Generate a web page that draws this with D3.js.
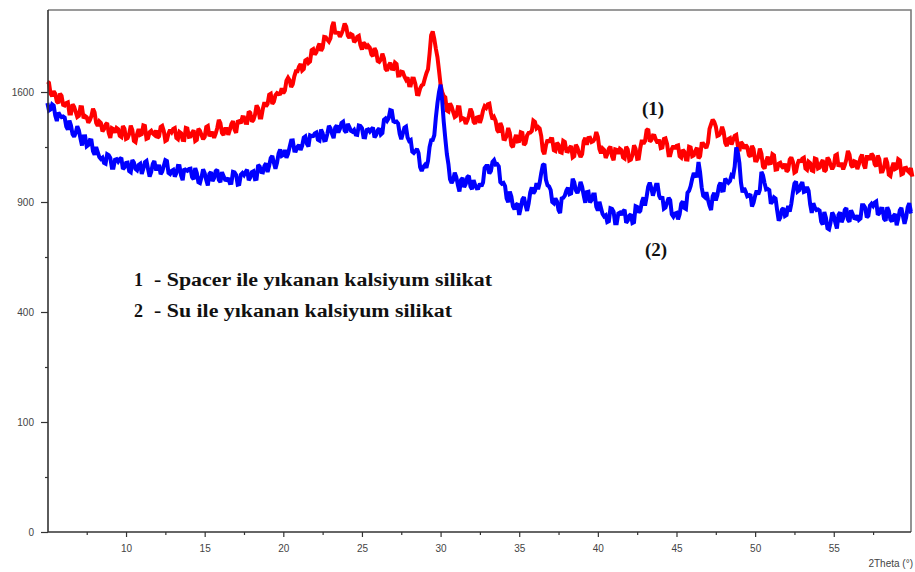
<!DOCTYPE html>
<html>
<head>
<meta charset="utf-8">
<script src="https://cdn.jsdelivr.net/npm/d3@7/dist/d3.min.js"></script>
<style>
  body { margin: 0; background: #fff; }
  svg { display: block; }
</style>
</head>
<body>
<svg id="chart" width="915" height="572"></svg>
<script>
// XRD scan: 2Theta from 5° in steps of 0.1°
const scanStart = 5;
const scanStep = 0.1;

// (1) Spacer ile yıkanan kalsiyum silikat — counts
const spacerWashed = [
  1677,1668,1589,1570,1606,1587,1532,1520,1588,1573,1508,1503,1521,1526,1447,1447,1512,1494,1459,1424,
  1432,1491,1490,1415,1430,1422,1384,1402,1430,1481,1455,1383,1363,1393,1382,1326,1342,1372,1382,1315,
  1284,1348,1342,1318,1349,1341,1297,1290,1362,1345,1277,1282,1310,1365,1336,1264,1257,1308,1342,1304,
  1309,1366,1362,1278,1283,1322,1330,1312,1303,1332,1284,1294,1356,1363,1329,1264,1270,1313,1336,1321,
  1342,1348,1283,1275,1323,1315,1271,1270,1349,1345,1290,1292,1317,1333,1264,1271,1343,1331,1303,1275,
  1290,1356,1362,1294,1316,1315,1284,1312,1349,1403,1381,1316,1303,1343,1343,1304,1336,1376,1395,1338,
  1317,1391,1395,1381,1422,1421,1384,1383,1462,1452,1391,1403,1438,1504,1485,1420,1420,1481,1526,1498,
  1514,1581,1588,1515,1531,1577,1592,1585,1587,1627,1590,1611,1684,1705,1686,1636,1657,1716,1754,1754,
  1790,1811,1761,1772,1838,1846,1818,1829,1919,1927,1884,1902,1943,1971,1914,1937,2026,2023,2004,1988,
  2015,2113,2150,2060,2059,2058,2027,2052,2086,2136,2110,2038,2017,2049,2041,1983,1997,2026,2034,1961,
  1924,1980,1965,1932,1954,1938,1886,1871,1935,1910,1834,1827,1844,1891,1853,1773,1759,1798,1820,1774,
  1772,1821,1810,1722,1723,1751,1748,1715,1691,1708,1649,1648,1699,1698,1657,1584,1583,1626,1649,1656,
  1699,1740,1769,1890,2040,2070,2010,1930,1864,1760,1653,1600,1571,1562,1468,1461,1519,1497,1459,1424,
  1432,1491,1490,1408,1416,1412,1377,1399,1430,1481,1455,1390,1377,1420,1423,1384,1417,1468,1498,1487,
  1512,1516,1450,1408,1422,1397,1336,1319,1382,1355,1277,1275,1297,1349,1316,1237,1224,1272,1303,1261,
  1263,1320,1316,1238,1250,1299,1317,1318,1329,1398,1390,1347,1356,1346,1296,1202,1180,1236,1271,1256,
  1277,1276,1205,1200,1251,1240,1193,1189,1264,1257,1199,1197,1219,1232,1160,1167,1239,1221,1187,1162,
  1180,1262,1284,1239,1283,1285,1257,1262,1277,1322,1290,1212,1186,1216,1206,1157,1180,1214,1227,1167,
  1142,1210,1207,1182,1213,1205,1161,1154,1226,1209,1141,1146,1174,1236,1214,1151,1153,1220,1270,1245,
  1263,1333,1342,1261,1270,1299,1297,1269,1250,1272,1218,1222,1277,1281,1245,1173,1173,1213,1232,1214,
  1232,1235,1167,1159,1207,1196,1148,1147,1226,1222,1167,1172,1201,1220,1154,1167,1245,1246,1231,1219,
  1251,1343,1375,1405,1390,1359,1297,1302,1316,1357,1322,1251,1231,1277,1283,1241,1270,1297,1303,1233,
  1199,1257,1245,1214,1238,1224,1174,1164,1233,1212,1141,1140,1162,1215,1183,1104,1091,1136,1164,1123,
  1125,1179,1172,1085,1087,1122,1127,1105,1093,1122,1074,1084,1146,1160,1133,1068,1074,1120,1146,1131,
  1152,1158,1093,1085,1133,1125,1081,1077,1152,1148,1093,1098,1127,1143,1074,1084,1159,1144,1113,1088,
  1106,1172,1178,1104,1119,1118,1087,1112,1146,1200,1178,1113,1099,1136,1132,1089,1118,1158,1177,1117,
  1092,1163,1163,1145,1183,1169,1118,1105,1171,1148,1074,1075,1100,1156,1127,1055,1048,1096,1127,1089,
  1094,1148,1141,1057,1062,1094,1096,1078,1069,1095,1044
];

// (2) Su ile yıkanan kalsiyum silikat — counts
const waterWashed = [
  1521,1468,1475,1511,1502,1434,1396,1454,1435,1423,1427,1419,1358,1338,1398,1365,1307,1292,1317,1360,
  1334,1280,1235,1293,1294,1230,1238,1269,1267,1198,1176,1225,1193,1162,1150,1158,1126,1121,1180,1174,
  1156,1096,1096,1145,1149,1134,1149,1157,1089,1099,1125,1127,1077,1070,1143,1128,1089,1081,1113,1120,
  1059,1090,1131,1138,1089,1044,1071,1120,1137,1089,1089,1114,1059,1073,1107,1142,1137,1066,1059,1077,
  1083,1044,1065,1108,1107,1050,1023,1091,1083,1078,1089,1091,1041,1028,1095,1065,1011,1006,1041,1087,
  1065,1024,993,1060,1071,1018,1036,1076,1084,1024,1012,1070,1048,1026,1024,1035,1006,1007,1072,1069,
  1054,997,1000,1055,1065,1053,1071,1085,1023,1039,1071,1076,1029,1031,1113,1104,1071,1069,1107,1123,
  1071,1108,1155,1169,1126,1090,1126,1184,1210,1169,1175,1206,1157,1181,1224,1266,1267,1202,1201,1226,
  1238,1206,1233,1285,1293,1246,1228,1300,1295,1296,1313,1319,1272,1266,1339,1315,1267,1269,1310,1363,
  1347,1310,1282,1352,1366,1319,1343,1383,1391,1331,1319,1377,1355,1330,1324,1335,1306,1304,1366,1363,
  1348,1288,1287,1336,1340,1325,1340,1351,1286,1302,1334,1346,1306,1316,1405,1414,1398,1415,1471,1467,
  1395,1389,1392,1379,1310,1275,1312,1351,1358,1287,1264,1270,1195,1187,1199,1213,1186,1100,1077,1101,
  1113,1096,1138,1225,1268,1270,1301,1420,1519,1600,1653,1540,1392,1280,1180,1117,1029,1007,1024,1067,
  1042,995,958,1025,1036,983,1001,1041,1049,986,971,1023,995,976,977,1003,988,1010,1095,1107,
  1107,1062,1077,1132,1143,1116,1119,1104,1012,1002,1007,989,919,899,958,930,877,861,884,892,
  831,868,914,927,883,852,892,953,981,947,961,1006,971,1008,1065,1112,1119,1025,994,987,
  967,900,893,920,903,857,841,920,923,935,963,979,943,947,1031,1010,965,949,972,1013,
  985,936,896,955,957,898,910,942,942,874,854,901,868,836,823,829,794,798,866,863,
  848,788,788,838,843,831,849,858,790,801,827,834,789,793,877,873,844,853,901,925,
  880,928,985,1009,977,935,965,997,997,933,916,930,864,870,896,923,910,834,822,838,
  841,808,834,891,903,868,863,951,962,989,1031,1065,1047,1049,1131,1069,982,935,927,954,
  913,880,857,932,951,909,938,990,1009,963,965,1032,1018,1008,1018,1053,1047,1103,1223,1190,
  1125,1009,953,977,957,931,935,943,875,897,934,964,942,967,1072,1051,1006,970,973,966,
  891,903,925,919,856,801,817,858,867,825,830,879,848,890,951,1003,1015,958,965,995,
  1012,956,960,984,963,887,841,893,869,857,860,854,796,781,846,816,762,757,792,844,
  828,790,761,831,844,793,814,857,867,807,795,856,836,814,812,829,805,812,882,882,
  869,818,826,881,891,879,897,903,832,840,864,863,810,801,872,852,807,797,826,836,
  778,812,855,868,824,785,817,872,894,849,851
];

const xTicks = [10, 15, 20, 25, 30, 35, 40, 45, 50, 55];
const xMinorTicks = [7.5, 12.5, 17.5, 22.5, 27.5, 32.5, 37.5, 42.5, 47.5, 52.5, 57.5];
const yTicks = [0, 100, 400, 900, 1600];
const yMinorTicks = [25, 225, 625, 1225];
const xTitle = "2Theta (°)";
const legendItems = [
  { num: "1", text: "- Spacer ile yıkanan kalsiyum silikat", width: 338 },
  { num: "2", text: "- Su ile yıkanan kalsiyum silikat", width: 298 }
];
const curveLabels = ["(1)", "(2)"];

const plot = { left: 48, right: 911, top: 10, bottom: 532 };

const svg = d3.select("#chart");

const x = d3.scaleLinear().domain([5, 60]).range([47.4, 912.4]);
const y = d3.scaleSqrt().domain([0, 2252]).range([plot.bottom, plot.top]);

const axisFont = "'Liberation Sans', Arial, sans-serif";
const serifFont = "'Liberation Serif', 'Times New Roman', serif";

// frame (top and right edges)
svg.append("path")
  .attr("d", `M${plot.left},${plot.top}H${plot.right}V${plot.bottom}`)
  .attr("fill", "none")
  .attr("stroke", "#7a7a7a")
  .attr("stroke-width", 1.6);

// traces: a broad stroke renders the counting-noise band of each scan
const line = d3.line()
  .x((d, i) => x(scanStart + i * scanStep))
  .y(d => y(d));

svg.append("path")
  .datum(spacerWashed)
  .attr("d", line)
  .attr("fill", "none")
  .attr("stroke", "#ff0000")
  .attr("stroke-width", 4)
  .attr("stroke-linejoin", "miter")
  .attr("stroke-miterlimit", 2);

svg.append("path")
  .datum(waterWashed)
  .attr("d", line)
  .attr("fill", "none")
  .attr("stroke", "#0000ff")
  .attr("stroke-width", 4)
  .attr("stroke-linejoin", "miter")
  .attr("stroke-miterlimit", 2);

// x axis
const gx = svg.append("g").attr("transform", `translate(0,${plot.bottom})`);
gx.call(d3.axisBottom(x).tickValues(xTicks).tickSize(5).tickPadding(8).tickSizeOuter(0));
const gxMinor = svg.append("g").attr("transform", `translate(0,${plot.bottom})`);
gxMinor.call(d3.axisBottom(x).tickValues(xMinorTicks).tickSize(3).tickFormat("").tickSizeOuter(0));
gxMinor.select(".domain").remove();

// y axis (square-root intensity)
const gy = svg.append("g").attr("transform", `translate(${plot.left},0)`);
gy.call(d3.axisLeft(y).tickValues(yTicks).tickFormat(d3.format("d")).tickSize(7).tickPadding(7).tickSizeOuter(0));
const gyMinor = svg.append("g").attr("transform", `translate(${plot.left},0)`);
gyMinor.call(d3.axisLeft(y).tickValues(yMinorTicks).tickSize(3).tickFormat("").tickSizeOuter(0));
gyMinor.select(".domain").remove();

gx.select(".domain").attr("d", `M${plot.left},0H${plot.right}`);
gy.select(".domain").attr("d", `M0,${plot.top}V${plot.bottom}`);

svg.selectAll(".domain").attr("stroke", "#333").attr("stroke-width", 1.6);
svg.selectAll(".tick line").attr("stroke", "#333").attr("stroke-width", 1.2);
svg.selectAll(".tick text")
  .attr("font-family", axisFont)
  .attr("font-size", 10)
  .attr("fill", "#444");

// axis title
svg.append("text")
  .attr("x", 913)
  .attr("y", 567)
  .attr("text-anchor", "end")
  .attr("font-family", axisFont)
  .attr("font-size", 10)
  .attr("fill", "#444")
  .text(xTitle);

// legend block
const legend = svg.append("g")
  .attr("font-family", serifFont)
  .attr("font-weight", "bold")
  .attr("font-size", 18)
  .attr("fill", "#111");

legendItems.forEach((item, i) => {
  const base = 286 + i * 31;
  legend.append("text").attr("x", 134).attr("y", base).text(item.num);
  legend.append("text").attr("x", 154).attr("y", base)
    .attr("textLength", item.width)
    .attr("lengthAdjust", "spacingAndGlyphs")
    .text(item.text);
});

// curve labels
const labelPos = [[653, 115], [656, 256]];
curveLabels.forEach((t, i) => {
  svg.append("text")
    .attr("x", labelPos[i][0]).attr("y", labelPos[i][1])
    .attr("text-anchor", "middle")
    .attr("font-family", serifFont)
    .attr("font-weight", "bold")
    .attr("font-size", 19)
    .attr("fill", "#111")
    .text(t);
});
</script>
</body>
</html>
